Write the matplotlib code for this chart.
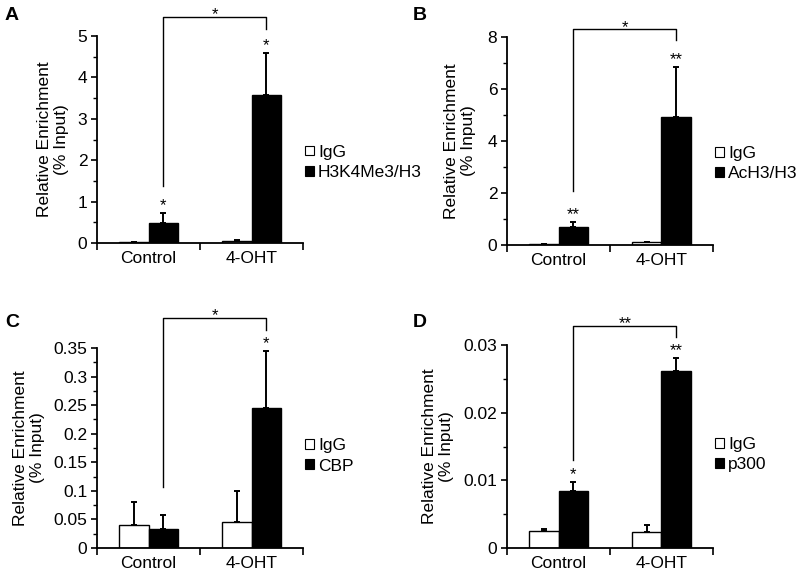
import numpy as np
import matplotlib
matplotlib.use("Agg")
import matplotlib.pyplot as plt
from matplotlib.patches import Patch
from matplotlib.ticker import MultipleLocator, FormatStrFormatter, FixedLocator

plt.rcParams['font.family'] = ['Liberation Sans', 'DejaVu Sans']

categories = ['Control', '4-OHT']

# panel A
igg_a = [0.02, 0.05]
igg_a_err = [0.0, 0.03]
h3k4_a = [0.49, 3.57]
h3k4_a_err = [0.24, 1.02]
stars_a = ['*', '*']

# panel B
igg_b = [0.02, 0.10]
igg_b_err = [0.0, 0.03]
ach3_b = [0.68, 4.92]
ach3_b_err = [0.19, 1.93]
stars_b = ['**', '**']

# panel C
igg_c = [0.041, 0.046]
igg_c_err = [0.040, 0.053]
cbp_c = [0.034, 0.245]
cbp_c_err = [0.023, 0.100]
stars_c = ['', '*']

# panel D
igg_d = [0.0025, 0.0023]
igg_d_err = [0.0003, 0.0011]
p300_d = [0.0084, 0.0261]
p300_d_err = [0.0013, 0.0020]
stars_d = ['*', '**']

FS = 12.5


def draw_panel(ax, name, igg, igg_err, sig, sig_err, stars,
               ymax, major, minor, bracket, bracket_star, label_x, legend_y):
  x = np.arange(len(categories)) + 0.5
  w = 0.29
  ax.bar(x - w / 2, igg, w, color='white', edgecolor='black', linewidth=1.0, zorder=2)
  ax.bar(x + w / 2, sig, w, color='black', edgecolor='black', linewidth=1.0, zorder=2)
  ax.errorbar(x - w / 2, igg, yerr=[np.zeros(len(igg)), igg_err], fmt='none',
              ecolor='black', elinewidth=1.4, capsize=2.5, capthick=1.4, zorder=3)
  ax.errorbar(x + w / 2, sig, yerr=[np.zeros(len(sig)), sig_err], fmt='none',
              ecolor='black', elinewidth=1.4, capsize=2.5, capthick=1.4, zorder=3)

  for xi, v, e, s in zip(x + w / 2, sig, sig_err, stars):
    if s:
      ax.annotate(s, (xi, v + e), xytext=(0, 0), textcoords='offset points',
                  ha='center', va='bottom', fontsize=12)

  # significance bracket between the two treated bars
  top, left, right = bracket
  xl, xr = x[0] + w / 2, x[1] + w / 2
  ax.plot([xl, xl, xr, xr], [left, top, top, right], color='black', lw=1.0,
          clip_on=False, zorder=3)
  ax.annotate(bracket_star, ((xl + xr) / 2, top), xytext=(0, -4),
              textcoords='offset points', ha='center', va='bottom', fontsize=12,
              annotation_clip=False)

  ax.set_xlim(0, 2)
  ax.set_ylim(0, ymax)
  ax.spines['top'].set_visible(False)
  ax.spines['right'].set_visible(False)
  ax.spines['left'].set_linewidth(1.3)
  ax.spines['bottom'].set_linewidth(1.3)

  ax.xaxis.set_major_locator(FixedLocator([0, 1, 2]))
  ax.xaxis.set_major_formatter(plt.NullFormatter())
  ax.xaxis.set_minor_locator(FixedLocator(list(x)))
  ax.set_xticklabels(categories, minor=True)
  ax.tick_params(axis='x', which='major', direction='out', length=5, width=1.2)
  ax.tick_params(axis='x', which='minor', length=0, pad=6, labelsize=FS)

  ax.yaxis.set_major_locator(MultipleLocator(major))
  ax.yaxis.set_minor_locator(MultipleLocator(minor))
  ax.yaxis.set_major_formatter(FormatStrFormatter('%g'))
  ax.tick_params(axis='y', which='major', direction='out', length=4, width=1.2,
                 pad=3, labelsize=FS)
  ax.tick_params(axis='y', which='minor', direction='out', length=3, width=1.0)

  ax.text(label_x, 0.5, 'Relative Enrichment\n(% Input)', transform=ax.transAxes,
          rotation=90, ha='center', va='center', multialignment='center',
          fontsize=FS, linespacing=1.15)

  handles = [Patch(facecolor='white', edgecolor='black', linewidth=0.8, label='IgG'),
             Patch(facecolor='black', edgecolor='black', linewidth=0.8, label=name)]
  ax.legend(handles=handles, loc='center left', bbox_to_anchor=(1.01, legend_y),
            frameon=False, fontsize=FS, handlelength=0.5, handleheight=0.5,
            handletextpad=0.25, borderpad=0, borderaxespad=0, labelspacing=0.3)


def main():
  fig = plt.figure(figsize=(7.98, 5.75), dpi=100)
  W, H = 798.0, 575.0

  def box(l, t, r, b):
    return [l / W, 1 - b / H, (r - l) / W, (b - t) / H]

  ax_a = fig.add_axes(box(97, 36, 303, 243))
  ax_b = fig.add_axes(box(507, 37, 713, 245))
  ax_c = fig.add_axes(box(97, 348, 303, 548))
  ax_d = fig.add_axes(box(507, 345, 713, 548))

  draw_panel(ax_a, 'H3K4Me3/H3', igg_a, igg_a_err, h3k4_a, h3k4_a_err, stars_a,
             5, 1, 0.5, (5.46, 1.38, 5.17), '*', -0.214, 0.39)
  draw_panel(ax_b, 'AcH3/H3', igg_b, igg_b_err, ach3_b, ach3_b_err, stars_b,
             8, 2, 1, (8.3, 2.08, 7.88), '*', -0.228, 0.39)
  draw_panel(ax_c, 'CBP', igg_c, igg_c_err, cbp_c, cbp_c_err, stars_c,
             0.35, 0.05, 0.025, (0.403, 0.106, 0.382), '*', -0.33, 0.46)
  draw_panel(ax_d, 'p300', igg_d, igg_d_err, p300_d, p300_d_err, stars_d,
             0.03, 0.01, 0.005, (0.0328, 0.0130, 0.0312), '**', -0.335, 0.46)

  # panel letters
  fig.text(5 / W, 1 - 20 / H, 'A', fontsize=14, fontweight='bold')
  fig.text(413 / W, 1 - 20 / H, 'B', fontsize=14, fontweight='bold')
  fig.text(5 / W, 1 - 327 / H, 'C', fontsize=14, fontweight='bold')
  fig.text(413 / W, 1 - 327 / H, 'D', fontsize=14, fontweight='bold')

  fig.savefig('out.png', dpi=100)


if __name__ == "__main__":
  main()
